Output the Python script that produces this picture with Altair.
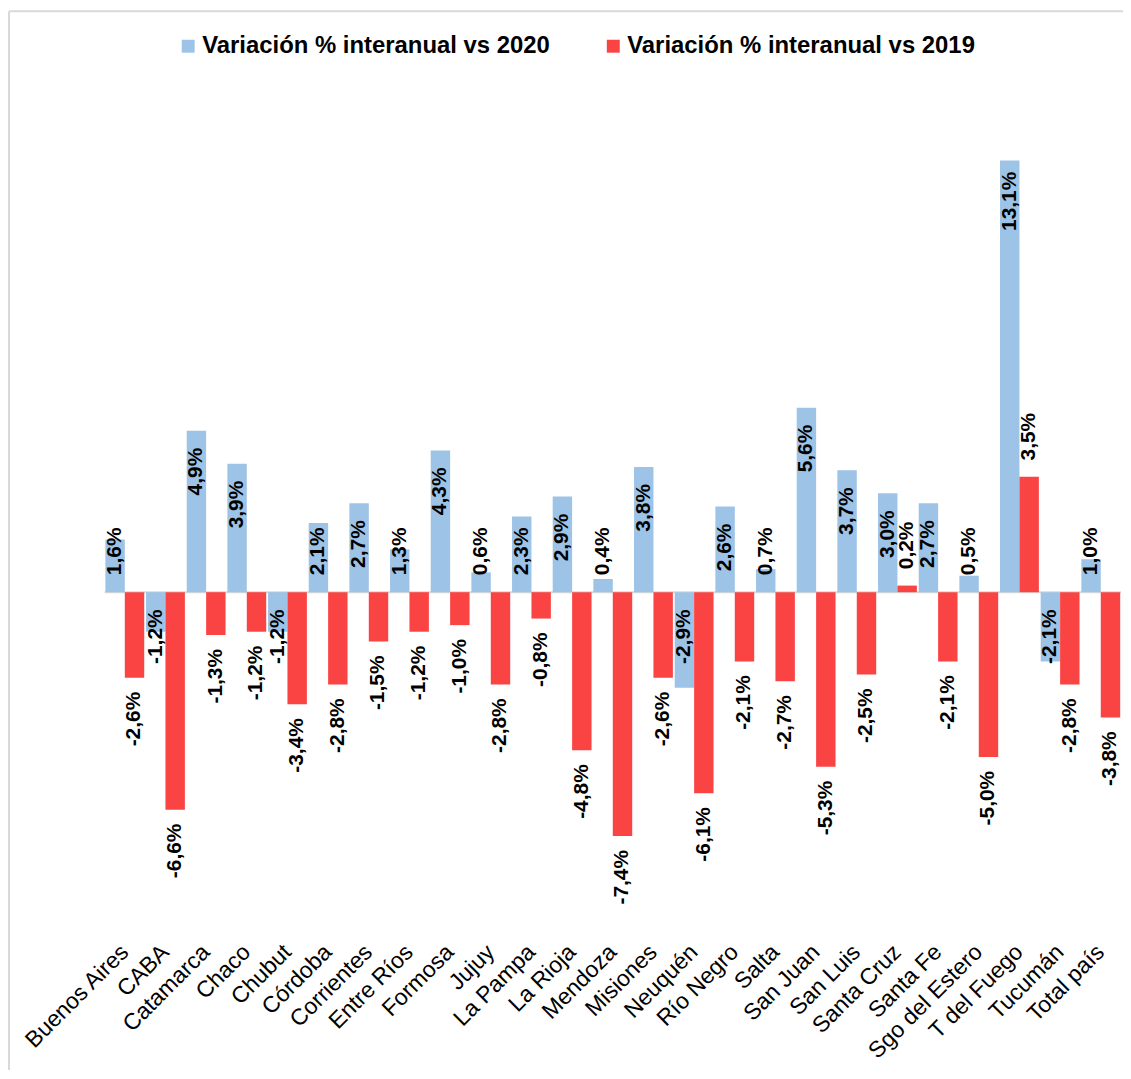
import altair as alt
import pandas as pd

provincias = ["Buenos Aires", "CABA", "Catamarca", "Chaco", "Chubut", "Córdoba",
              "Corrientes", "Entre Ríos", "Formosa", "Jujuy", "La Pampa", "La Rioja",
              "Mendoza", "Misiones", "Neuquén", "Río Negro", "Salta", "San Juan",
              "San Luis", "Santa Cruz", "Santa Fe", "Sgo del Estero", "T del Fuego",
              "Tucumán", "Total país"]
var_2020 = [1.6, -1.2, 4.9, 3.9, -1.2, 2.1, 2.7, 1.3, 4.3, 0.6, 2.3, 2.9, 0.4,
            3.8, -2.9, 2.6, 0.7, 5.6, 3.7, 3.0, 2.7, 0.5, 13.1, -2.1, 1.0]
var_2019 = [-2.6, -6.6, -1.3, -1.2, -3.4, -2.8, -1.5, -1.2, -1.0, -2.8, -0.8, -4.8,
            -7.4, -2.6, -6.1, -2.1, -2.7, -5.3, -2.5, 0.2, -2.1, -5.0, 3.5, -2.8, -3.8]
series = ["Variación % interanual vs 2020", "Variación % interanual vs 2019"]
colores = ["#9DC3E6", "#FA4343"]


def fmt(v):
    return f"{v:.1f}".replace(".", ",") + "%"


rows = []
for p, a, b in zip(provincias, var_2020, var_2019):
    rows.append({"prov": p, "serie": series[0], "s": 0, "v": a, "lab": fmt(a)})
    rows.append({"prov": p, "serie": series[1], "s": 1, "v": b, "lab": fmt(b)})
df = pd.DataFrame(rows)

W, H = 1021, 811
FONT = "Liberation Sans"

xenc = alt.X("prov:N", sort=provincias, title=None,
             scale=alt.Scale(paddingInner=0.045, paddingOuter=0.02),
             axis=alt.Axis(labelAngle=-45, labelAlign="right", labelBaseline="middle",
                           labelFontSize=23, labelColor="black", labelPadding=10,
                           ticks=False, domain=False, labelFont=FONT, labelLimit=400))
xoff = alt.XOffset("serie:N", sort=series)
yscale = alt.Scale(domain=[-10.5, 14], nice=False, zero=False)

bars = alt.Chart(df).mark_bar().encode(
    x=xenc,
    xOffset=xoff,
    y=alt.Y("v:Q", scale=yscale, axis=None),
    color=alt.Color("serie:N", sort=series,
                    scale=alt.Scale(domain=series, range=colores),
                    legend=alt.Legend(orient="none", legendX=72, legendY=-97,
                                      direction="horizontal", title=None,
                                      symbolType="square", symbolSize=169,
                                      symbolStrokeWidth=0,
                                      labelFontSize=24, labelFontWeight="bold",
                                      labelFont=FONT, labelColor="black",
                                      columnPadding=51, labelOffset=2, padding=0,
                                      labelLimit=600)),
)

labels = alt.Chart(df).transform_calculate(
    pos="datum.s == 0 ? (datum.v >= 0 ? max(datum.v - 1.24, 1.24) : -1.35) "
        ": (datum.v >= 0 ? datum.v + 1.22 : datum.v - 1.25)"
).mark_text(angle=270, fontSize=21, fontWeight="bold", font=FONT, color="black",
            align="center", baseline="middle").encode(
    x=xenc,
    xOffset=xoff,
    y=alt.Y("pos:Q", scale=yscale, axis=None),
    text="lab:N",
)

zero = alt.Chart(pd.DataFrame({"y": [0]})).mark_rule(color="#D9D9D9", strokeWidth=2).encode(
    y=alt.Y("y:Q", scale=yscale, axis=None)
)

one = pd.DataFrame({"a": [0]})
frame_top = alt.Chart(one).mark_rule(color="#D9D9D9", strokeWidth=2).encode(
    x=alt.value(-96), x2=alt.value(W + 10), y=alt.value(-120)
)
frame_left = alt.Chart(one).mark_rule(color="#D9D9D9", strokeWidth=2).encode(
    x=alt.value(-96), y=alt.value(-120), y2=alt.value(H + 200)
)

chart = alt.layer(frame_top, frame_left, zero, bars, labels).properties(
    width=W, height=H,
    padding={"left": 97, "top": 121, "right": 2, "bottom": 130},
    autosize=alt.AutoSizeParams(type="none"),
).configure(font=FONT).configure_view(stroke=None)

chart.save("out.html", embed_options={"renderer": "svg", "actions": False})
